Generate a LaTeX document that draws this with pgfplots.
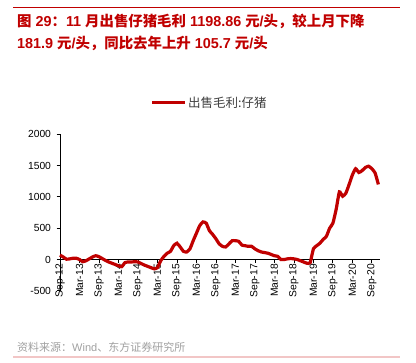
\documentclass[border=0pt]{standalone}
\usepackage{fontspec}
\setmainfont{Liberation Sans}
\newfontfamily\cjk{Noto Sans CJK SC}
\usepackage{pgfplots}
\pgfplotsset{compat=1.18}
\usepackage{pgfplotstable}
\definecolor{tred}{HTML}{C00000}
\definecolor{lred}{HTML}{C00000}
\definecolor{pinkl}{HTML}{F2C6C6}
\definecolor{srcgray}{HTML}{A0A0A0}
\definecolor{leggray}{HTML}{404040}
\pgfplotstableread{
m v
0 70
1 40
2 5
3 10
4 20
5 20
6 0
7 -35
8 -20
9 10
10 40
11 60
12 45
13 15
14 -15
15 -40
16 -60
17 -80
18 -100
19 -115
20 -50
21 -40
22 -40
23 -35
24 -40
25 -65
26 -90
27 -110
28 -130
29 -150
30 -130
31 -20
32 50
33 100
34 130
35 220
36 260
37 200
38 130
39 120
40 170
41 300
42 420
43 540
44 600
45 580
46 460
47 400
48 330
49 250
50 210
51 200
52 250
53 300
54 300
55 290
56 230
57 220
58 210
59 210
60 170
61 140
62 120
63 110
64 100
65 80
66 60
67 50
68 0
69 0
70 10
71 15
72 10
73 0
74 -20
75 -40
76 -60
77 -50
78 170
79 220
80 260
81 320
82 370
83 500
84 580
85 800
86 1080
87 1010
88 1060
89 1200
90 1350
91 1450
92 1390
93 1420
94 1470
95 1490
96 1450
97 1381
98 1199
}\data
\begin{document}
\begin{tikzpicture}[x=1pt,y=1pt]
\path[use as bounding box] (0,0) rectangle (416,363);
\draw[tred, line width=1pt] (13,355) -- (400,355);
\draw[pinkl, line width=1.6pt] (13,6) -- (400,6);
\node[anchor=base west, inner sep=0pt, text=tred, font=\fontsize{14.4}{16}\selectfont\bfseries] at (17,336)
 {{\cjk 图} 29{\cjk ：}11 {\cjk 月出售仔猪毛利} 1198.86 {\cjk 元}/{\cjk 头}{\cjk ，较上月下降}};
\node[anchor=base west, inner sep=0pt, text=tred, font=\fontsize{14.4}{16}\selectfont\bfseries] at (17,314)
 {181.9 {\cjk 元}/{\cjk 头}{\cjk ，同比去年上升} 105.7 {\cjk 元}/{\cjk 头}};
\node[anchor=west, inner sep=0pt, text=srcgray, font=\fontsize{11}{13}\selectfont] at (17,16)
 {{\cjk 资料来源：}Wind{\cjk 、东方证券研究所}};
\draw[lred, line width=3pt] (152,260) -- (185,260);
\node[anchor=west, inner sep=0pt, text=leggray, font=\fontsize{12.5}{14}\selectfont] at (188,260) {{\cjk 出售毛利:仔猪}};
\begin{axis}[
  at={(60pt,103.5pt)}, anchor=origin,
  scale only axis, width=320pt, height=156.5pt,
  xmin=0, xmax=98.5, ymin=-500, ymax=2000,
  axis y line=left, axis x line=middle,
  hide obscured x ticks=false,
  axis line style={-, black, line width=0.9pt},
  xtick={0,6,...,96},
  xticklabels={Sep-12,Mar-13,Sep-13,Mar-14,Sep-14,Mar-15,Sep-15,Mar-16,Sep-16,Mar-17,Sep-17,Mar-18,Sep-18,Mar-19,Sep-19,Mar-20,Sep-20},
  ytick={-500,0,500,1000,1500,2000},
  tick align=outside, major tick length=3.5pt,
  tick style={black, line width=0.8pt},
  xticklabel style={rotate=90, anchor=east, font=\fontsize{10.3}{12}\selectfont, inner sep=1pt},
  yticklabel style={font=\fontsize{10.3}{12}\selectfont, xshift=-2pt},
  /pgf/number format/assume math mode=true,
  /pgf/number format/1000 sep={},
  clip=false,
]
\addplot[lred, line width=3.2pt, smooth, tension=0.3] table[x=m,y=v] {\data};
\end{axis}
\end{tikzpicture}
\end{document}
